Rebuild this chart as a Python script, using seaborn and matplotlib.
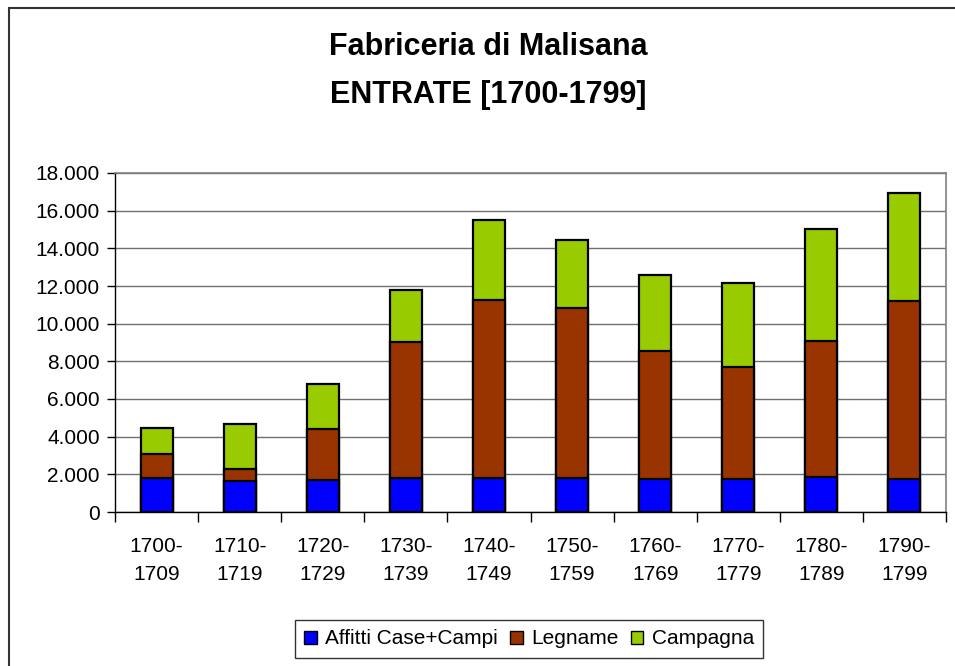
import matplotlib
matplotlib.use("Agg")
import matplotlib.pyplot as plt
from matplotlib.patches import Patch, Rectangle
import seaborn as sns
import pandas as pd
import numpy as np

categories = ["1700-\n1709", "1710-\n1719", "1720-\n1729", "1730-\n1739", "1740-\n1749",
              "1750-\n1759", "1760-\n1769", "1770-\n1779", "1780-\n1789", "1790-\n1799"]
affitti = [1790, 1660, 1700, 1800, 1800, 1800, 1750, 1750, 1875, 1750]
legname = [1290, 620, 2700, 7230, 9460, 9030, 6800, 5950, 7205, 9470]
campagna = [1365, 2377, 2400, 2760, 4240, 3610, 4040, 4460, 5950, 5720]
series_names = ["Affitti Case+Campi", "Legname", "Campagna"]
colors = ["#0000FF", "#993300", "#99CC00"]
title_lines = ["Fabriceria di Malisana", "ENTRATE [1700-1799]"]
yticks = list(range(0, 18001, 2000))

sns.set_style("white")
plt.rcParams['font.family'] = ['Liberation Sans', 'DejaVu Sans']
plt.rcParams['text.color'] = 'black'
plt.rcParams['xtick.color'] = 'black'
plt.rcParams['ytick.color'] = 'black'

df = pd.DataFrame({"cat": categories, "a": affitti, "l": legname, "c": campagna})
df["lev1"] = df["a"]
df["lev2"] = df["a"] + df["l"]
df["lev3"] = df["lev2"] + df["c"]

fig = plt.figure(figsize=(9.55, 6.66), dpi=100)
ax = fig.add_axes([115/955, 1-512/666, (946-115)/955, (512-173)/666])

for col, colr in [("lev3", colors[2]), ("lev2", colors[1]), ("lev1", colors[0])]:
    sns.barplot(data=df, x="cat", y=col, color=colr, width=0.385, edgecolor="black",
                linewidth=1.6, saturation=1, ax=ax, zorder=3)

ax.set_ylim(0, 18000)
ax.set_xlim(-0.5, 9.5)
ax.set_yticks(yticks)
ax.set_yticklabels([f"{v:,}".replace(",", ".") for v in yticks], fontsize=15)
ax.set_xlabel("")
ax.set_ylabel("")
ax.set_xticks(np.arange(len(categories)))
ax.set_xticklabels(categories, fontsize=15, linespacing=1.6)
ax.tick_params(axis="x", length=0, pad=18)
ax.tick_params(axis="y", length=6, width=1, pad=5, left=True)
ax.set_xticks(np.arange(-0.5, 10, 1), minor=True)
ax.tick_params(axis="x", which="minor", length=7, width=1, bottom=True)
ax.yaxis.grid(True, color="#707070", linewidth=1, zorder=0)
ax.set_axisbelow(True)
for s in ["top", "right"]:
    ax.spines[s].set_color("#808080")
    ax.spines[s].set_linewidth(1.2)
for s in ["left", "bottom"]:
    ax.spines[s].set_color("black")
    ax.spines[s].set_linewidth(1)

fig.text(488/955, 1-47/666, title_lines[0], ha="center", va="center", fontsize=22,
         fontweight="bold", color="black")
fig.text(488/955, 1-95/666, title_lines[1], ha="center", va="center", fontsize=22,
         fontweight="bold", color="black")

handles = [Patch(facecolor=c, edgecolor="black", linewidth=1) for c in colors]
leg = fig.legend(handles, series_names, loc="center", bbox_to_anchor=(529/955, 1-639/666),
                 ncol=3, fontsize=15, frameon=True, fancybox=False, edgecolor="black",
                 handlelength=0.6, handleheight=0.6, handletextpad=0.4, columnspacing=0.6,
                 borderpad=0.45, borderaxespad=0)
leg.get_frame().set_linewidth(1)

fig.patches.append(Rectangle((8.5/955, -0.1), 1.2, 1.1 - 7.5/666, transform=fig.transFigure,
                             fill=False, edgecolor="#333333", linewidth=1.5))

fig.savefig("out.png", dpi=100)
